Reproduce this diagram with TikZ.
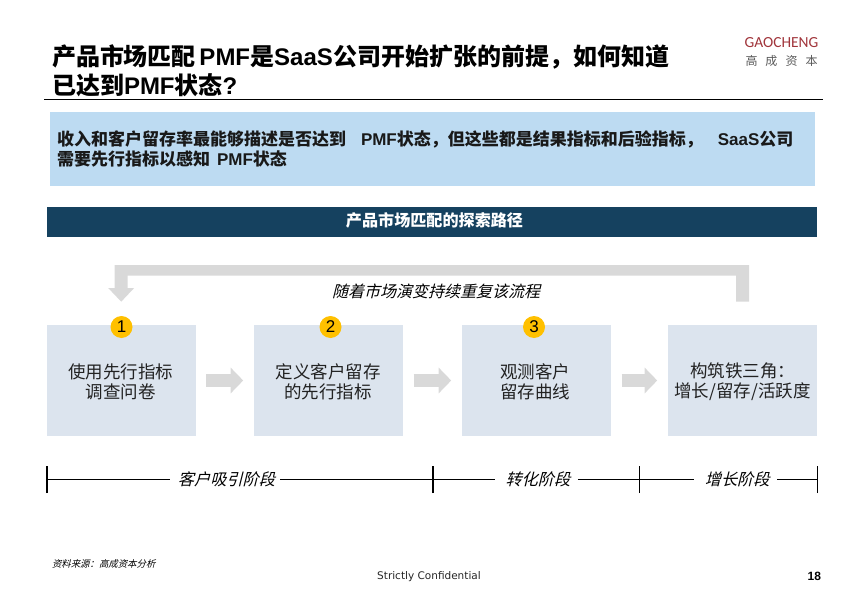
\documentclass[tikz,border=0pt]{standalone}
\usepackage{fontspec}
\usetikzlibrary{arrows.meta,calc}
\setmainfont{Liberation Sans}
\newfontfamily\cjk{Noto Sans CJK SC}
\newfontfamily\cjkit[FakeSlant=0.25]{Noto Sans CJK SC}
\newfontfamily\dejavu{DejaVu Sans}
\newfontfamily\carlito{Carlito}
\definecolor{bandblue}{HTML}{BDDBF2}
\definecolor{navy}{HTML}{15415F}
\definecolor{paleblue}{HTML}{DCE4EE}
\definecolor{amber}{HTML}{FFC000}
\definecolor{arrowgray}{HTML}{D9D9D9}
\definecolor{inkdark}{HTML}{222222}
\definecolor{logored}{HTML}{A0343A}
\newcommand{\fs}[2]{\fontsize{#1}{#2}\selectfont}
\tikzset{
  x=1pt,y=-1pt,
  txt/.style={inner sep=0pt,outer sep=0pt},
  flowbox/.style={draw=none,fill=paleblue,minimum width=149pt,minimum height=111pt,inner sep=0pt,outer sep=0pt},
  flowtext/.style={txt,align=center,text=inkdark,font=\cjk\fs{17.5}{20}},
  badge/.style={circle,fill=amber,minimum size=22pt,inner sep=0pt,text=black,font=\fs{17}{20}},
  blockarrow/.style={draw=arrowgray,line width=13pt,-{Triangle[length=12.5pt,width=25pt]},
     shorten <=10.5pt,shorten >=10.8pt},
  phase/.style={fill=white,inner sep=0pt,outer sep=0pt,minimum height=18pt,font=\cjkit\fs{16.2}{18},text=black},
  tick/.style={draw=black,line width=1.1pt},
}
\begin{document}
\begin{tikzpicture}
\useasboundingbox (0,0) rectangle (865,599);
% title
\node[txt,anchor=west,align=left,font=\bfseries\fs{24}{29}] (title) at (52,70.5)
 {{\cjk 产品市场匹配}\hspace{3.5pt}PMF{\cjk 是}SaaS\hspace{1pt}{\cjk 公司开始扩张的前提，如何知道}\\{\cjk 已达到}PMF{\cjk 状态}?};
\draw[black,line width=1pt] (44,100) -- (823,100);
% logo
\node[txt,text=logored,font=\carlito\fs{15.4}{16}] (logoa) at (781.5,43) {GAOCHENG};
\node[txt,text=black!65,font=\cjk\fs{12}{14}] (logob) at (781.5,60.5) {高\hspace{8pt}成\hspace{8pt}资\hspace{8pt}本};
% summary band
\fill[bandblue] (50,112) rectangle (815,186);
\node[txt,anchor=west,align=left,text=black!90,font=\bfseries\fs{17}{20}] (summary) at (57,149)
 {{\cjk 收入和客户留存率最能够描述是否达到}\hspace{15pt}PMF{\cjk 状态，但这些都是结果指标和后验指标，}\hspace{15pt}SaaS{\cjk 公司}\\
  {\cjk 需要先行指标以感知}\hspace{7pt}PMF{\cjk 状态}};
% header
\node[fill=navy,minimum width=770pt,minimum height=30pt,inner sep=0pt] (header) at (432,222) {};
\node[txt,text=white,font=\cjk\bfseries\fs{16.1}{18}] (headertext) at (434.5,220.5) {产品市场匹配的探索路径};
% flow boxes
\node[flowbox] (box1) at (121.2,380.5) {};
\node[flowbox] (box2) at (328.5,380.5) {};
\node[flowbox] (box3) at (536.5,380.5) {};
\node[flowbox] (box4) at (742.5,380.5) {};
\node[flowtext] (text1) at (120.5,382) {使用先行指标\\调查问卷};
\node[flowtext] (text2) at (328,382) {定义客户留存\\的先行指标};
\node[flowtext] (text3) at (535,382) {观测客户\\留存曲线};
\node[flowtext] (text4) at (742.5,382) {构筑铁三角：\\增长/留存/活跃度};
% badges
\node[badge] (b1) at (121.5,327) {1};
\node[badge] (b2) at (330.5,327) {2};
\node[badge] (b3) at (534,327) {3};
% flow arrows
\draw[blockarrow] (box1) -- (box2);
\draw[blockarrow] (box2) -- (box3);
\draw[blockarrow] (box3) -- (box4);
% feedback loop
\fill[arrowgray]
  ([shift={(6.7,-23.3)}]box4.north) -- ([shift={(6.7,-60)}]box4.north)
  -- ([shift={(-6.5,-60)}]box1.north) -- ([shift={(-6.5,-37)}]box1.north)
  -- ([shift={(-13,-37)}]box1.north) -- ([shift={(0,-23.3)}]box1.north)
  -- ([shift={(13,-37)}]box1.north) -- ([shift={(6.5,-37)}]box1.north)
  -- ([shift={(6.5,-49.3)}]box1.north) -- ([shift={(-6.5,-49.3)}]box4.north)
  -- ([shift={(-6.5,-23.3)}]box4.north) -- cycle;
\node[txt,text=black,font=\cjkit\fs{16}{18}] (loop) at (436,291) {随着市场演变持续重复该流程};
% timeline
\coordinate (t1) at (47,479.7);
\coordinate (t2) at (433,479.7);
\coordinate (t3) at (639.3,479.7);
\coordinate (t4) at (817.7,479.7);
\node[phase,minimum width=110pt] (p1) at (225,479.7) {\hspace{3pt}客户吸引阶段};
\node[phase,minimum width=82.7pt] (p2) at (536.4,479.7) {\hspace{3pt}转化阶段};
\node[phase,minimum width=82.7pt] (p3) at (735.7,479.7) {\hspace{3pt}增长阶段};
\draw[tick] (t1) -- (p1) -- (t2) -- (p2) -- (t3) -- (p3) -- (t4);
\foreach \t in {t1,t2,t3,t4}
  \draw[tick] ([yshift=-13.5pt]\t.center) -- ([yshift=13.5pt]\t.center);
% footer
\node[txt,anchor=west,font=\cjkit\fs{9.4}{11}] (source) at (52,564) {资料来源：高成资本分析};
\node[txt,text=black!85,font=\dejavu\fs{10.5}{12}] (conf) at (429,577) {Strictly Confidential};
\node[txt,anchor=east,font=\bfseries\fs{12}{14}] (page) at (821,576) {18};
\end{tikzpicture}
\end{document}
